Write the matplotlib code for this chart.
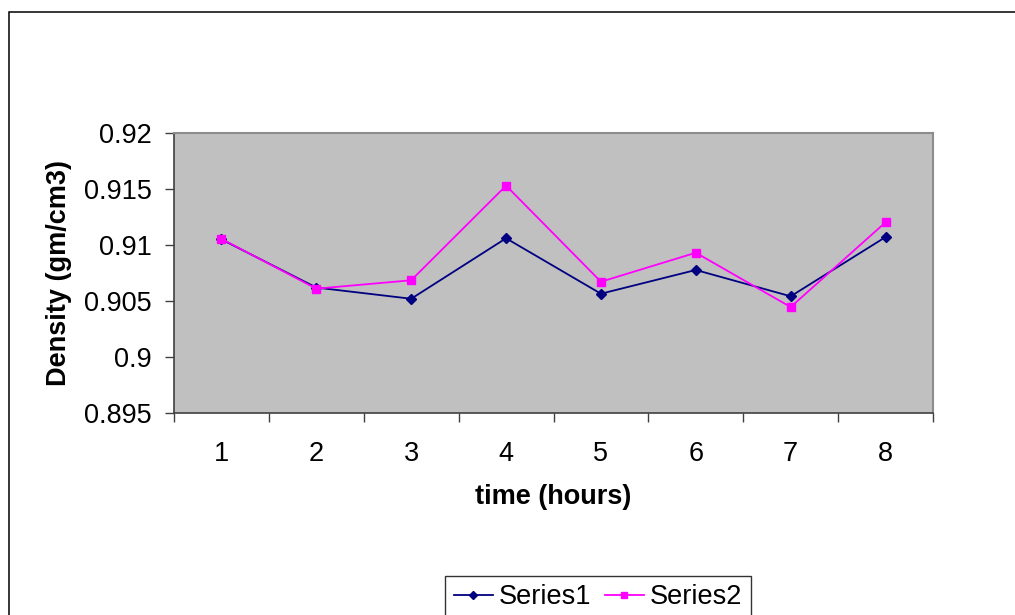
import numpy as np
import matplotlib.pyplot as plt
from matplotlib.patches import Rectangle
from matplotlib.ticker import FixedLocator

plt.rcParams['font.family'] = ['Liberation Sans', 'DejaVu Sans']

hours = [1, 2, 3, 4, 5, 6, 7, 8]
series1 = [0.9105, 0.9062, 0.9052, 0.9106, 0.90565, 0.90777, 0.90542, 0.91071]
series2 = [0.91055, 0.9061, 0.90685, 0.9153, 0.90672, 0.90931, 0.90446, 0.91203]
yticks = [0.895, 0.9, 0.905, 0.91, 0.915, 0.92]
ytick_labels = ['0.895', '0.9', '0.905', '0.91', '0.915', '0.92']

FS = 19.5

fig = plt.figure(figsize=(10.15, 6.15), dpi=100)
ax = fig.add_axes([174 / 1015, 202 / 615, 759 / 1015, 280 / 615])

# chart frame (runs off the right and bottom edge)
fig.patches.append(Rectangle((9 / 1015, -0.2), 1.2, 1.2 - 12 / 615,
                             transform=fig.transFigure, fill=False,
                             edgecolor='black', linewidth=1.1))

ax.set_facecolor('#c0c0c0')
ax.plot(hours, series1, color='#000080', marker='D', markersize=5.5,
        linewidth=1.3, label='Series1')
ax.plot(hours, series2, color='#ff00ff', marker='s', markersize=6,
        linewidth=1.3, label='Series2')

ax.set_xlim(0.5, 8.5)
ax.set_ylim(0.895, 0.92)

ax.set_xticks(hours)
ax.set_xticklabels([str(h) for h in hours], fontsize=FS)
ax.tick_params(axis='x', which='major', length=0, pad=20)
ax.xaxis.set_minor_locator(FixedLocator(np.arange(0.5, 9.0, 1.0)))
ax.tick_params(axis='x', which='minor', length=6.5, width=1, color='#404040')

ax.set_yticks(yticks)
ax.set_yticklabels(ytick_labels, fontsize=FS)
ax.tick_params(axis='y', length=6.5, width=1, color='#404040', pad=9.5)

for side in ['left', 'bottom']:
    ax.spines[side].set_color('#404040')
    ax.spines[side].set_linewidth(1.2)
for side in ['top', 'right']:
    ax.spines[side].set_color('#8c8c8c')
    ax.spines[side].set_linewidth(1.5)

ax.set_xlabel('time (hours)', fontsize=FS, fontweight='bold')
ax.xaxis.set_label_coords(0.5, -0.255)
ax.set_ylabel('Density (gm/cm3)', fontsize=FS, fontweight='bold')
ax.yaxis.set_label_coords(-0.135, 0.5)

leg = fig.legend(loc='upper center', bbox_to_anchor=(598 / 1015, 1 - 576 / 615),
                 ncol=2, fontsize=FS, frameon=True, fancybox=False,
                 edgecolor='black', handlelength=1.45, handletextpad=0.22,
                 columnspacing=0.5, borderpad=0.3, borderaxespad=0,
                 markerscale=0.8)
leg.get_frame().set_linewidth(1.0)

fig.savefig('out.png', dpi=100)
